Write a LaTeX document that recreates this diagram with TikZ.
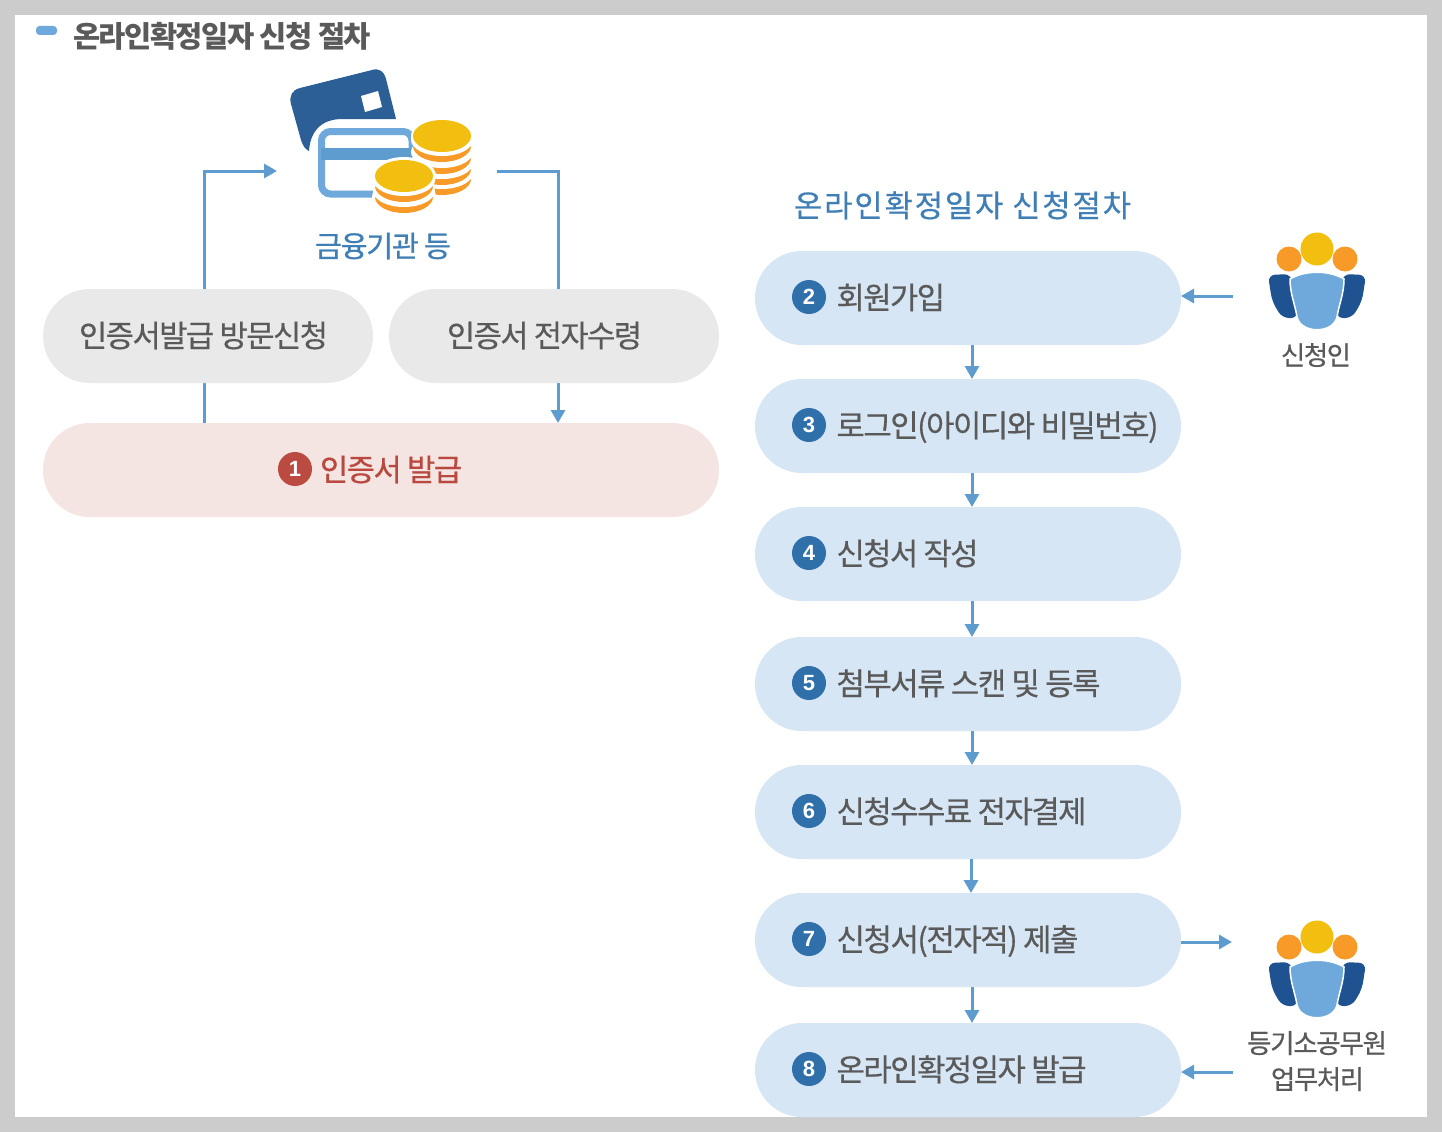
\documentclass[tikz,border=0pt]{standalone}
\usepackage{fontspec}
\usepackage{graphicx}
\usetikzlibrary{arrows.meta}
\setmainfont{Noto Sans CJK KR}[LetterSpace=-5,FakeBold=0.5]
\newfontfamily\titlefont{Noto Sans CJK KR}[LetterSpace=-5]
\newfontfamily\numfont{Liberation Sans}
\definecolor{frameg}{HTML}{CCCCCC}
\definecolor{txtg}{HTML}{5A5A5A}
\definecolor{txtb}{HTML}{3F7FB5}
\definecolor{txtr}{HTML}{B9483F}
\definecolor{pillb}{HTML}{D6E6F5}
\definecolor{pillg}{HTML}{E9E9E9}
\definecolor{pillr}{HTML}{F4E4E2}
\definecolor{numb}{HTML}{2F70AB}
\definecolor{numr}{HTML}{BB4A40}
\definecolor{linec}{HTML}{5E9BCE}
\definecolor{cardd}{HTML}{2C5F95}
\definecolor{cardl}{HTML}{6FA9DC}
\definecolor{coiny}{HTML}{F2BE0F}
\definecolor{coino}{HTML}{F79A28}
\definecolor{persd}{HTML}{1F5290}
\newcommand{\fitw}[2]{\resizebox{#1pt}{!}{\fontsize{32}{36}\selectfont #2}}
\tikzset{
 pill/.style={rounded corners=46.9pt,inner sep=0pt,outer sep=0pt,minimum height=94pt},
 bluepill/.style={pill,fill=pillb,minimum width=426pt},
 greypill/.style={pill,fill=pillg,minimum width=330pt},
 redpill/.style={pill,fill=pillr,minimum width=676pt},
 lab/.style={inner sep=0pt,outer sep=0pt,anchor=base west},
 num/.style={circle,fill=numb,text=white,minimum size=34pt,inner sep=0pt,font=\numfont\fontsize{22}{22}\selectfont\bfseries},
 flow/.style={draw=linec,line width=3pt},
 flowa/.style={flow,-{Triangle[length=13pt,width=14pt]}},
}
\newcommand{\people}[2]{%
 \begin{scope}[shift={(#1,#2)}]
  \fill[coino] (-28,10) circle (12.5);
  \fill[coino] (28,10) circle (12.5);
  \fill[coiny] (0,0) circle (16.5);
  \fill[persd,rounded corners=7pt] (-49,26) -- (-26,25) -- (-19,69) -- (-35,69) -- (-45,52) -- cycle;
  \fill[persd,rounded corners=7pt] (49,26) -- (26,25) -- (19,69) -- (35,69) -- (45,52) -- cycle;
  \fill[cardl,draw=white,line width=1.5pt] (-27,30) .. controls (-12,21) and (12,21) .. (27,30)
    .. controls (27,45) and (22,55) .. (20,68) .. controls (16,85) and (-16,85) .. (-20,68)
    .. controls (-22,55) and (-27,45) .. (-27,30) -- cycle;
 \end{scope}}
\newcommand{\coinlayer}[2]{%
  \fill[coino] (#1,#2) ellipse (29 and 16);
  \fill[white] (#1,#2-6) ellipse (31 and 16);}
\begin{document}
\begin{tikzpicture}[x=1pt,y=-1pt]
\useasboundingbox (0,0) rectangle (1442,1132);
\fill[frameg] (0,0) rectangle (1442,1132);
\fill[white] (15,15) rectangle (1427,1117);

% title
\fill[cardl,rounded corners=3.5pt] (36,26) rectangle (57,35);
\node[lab,text=txtg] (title) at (73,47) {\titlefont\bfseries\fitw{298}{\titlefont\bfseries 온라인확정일자 신청 절차}};

% pills
\node[redpill] (issue) at (381,470) {};
\coordinate (cardin) at (277,171);
\coordinate (cardout) at (497,171);
\coordinate (c1) at (204,171);
\coordinate (c2) at (558,171);
\coordinate (issueA) at (204,423);
\coordinate (issueB) at (558,423);
\draw[flowa] (issueA) -- (c1) -- (cardin);
\draw[flowa] (cardout) -- (c2) -- (issueB);
\node[greypill] (visit) at (208,336) {};
\node[greypill] (recv) at (554,336) {};
\node[lab,text=txtg] (visitT) at (79,347) {\fitw{249}{인증서발급 방문신청}};
\node[lab,text=txtg] (recvT) at (447,347) {\fitw{195}{인증서 전자수령}};
\node[num,fill=numr] (n1) at (295,469) {1};
\node[lab,text=txtr] (issueT) at (320,481) {\fitw{142}{인증서 발급}};

% card and coins icon
\fill[cardd] (396,119) -- (386,79) .. controls (384,71) and (379,68) .. (372,70) -- (300,88)
  .. controls (292,90) and (289,96) .. (291,104) -- (301,140) .. controls (303,146) and (305,149) .. (309,151)
  .. controls (310,135) and (318,118) .. (345,119) -- cycle;
\fill[white] (361,96) -- (378,91) -- (382,107) -- (365,112) -- cycle;
\draw[cardl,line width=7pt,rounded corners=9pt] (321.5,131.5) rectangle (412,194);
\fill[linec] (321,148) rectangle (412,160);
% rear stack
\coinlayer{442}{179}
\coinlayer{442}{169}
\coinlayer{442}{158}
\coinlayer{442}{146}
\fill[white] (442,136) ellipse (31 and 18);
\fill[coiny] (442,136) ellipse (29 and 16);
% front stack
\fill[white] (404,197) ellipse (32 and 19);
\fill[white] (404,176) ellipse (32 and 19);
\coinlayer{404}{197}
\coinlayer{404}{186}
\fill[white] (404,176) ellipse (31 and 18);
\fill[coiny] (404,176) ellipse (29 and 16);
\node[lab,text=txtb] (bankT) at (315,257) {\fitw{136}{금융기관 등}};

% right column
\node[lab,text=txtb] (headT) at (794,217) {\resizebox{337pt}{!}{\fontsize{32}{36}\addfontfeature{LetterSpace=6}\selectfont 온라인확정일자 신청절차}};
\node[bluepill] (s2) at (968,298) {};
\node[bluepill] (s3) at (968,426) {};
\node[bluepill] (s4) at (968,554) {};
\node[bluepill] (s5) at (968,684) {};
\node[bluepill] (s6) at (968,812) {};
\node[bluepill] (s7) at (968,940) {};
\node[bluepill] (s8) at (968,1070) {};
\foreach \a/\b/\x in {s2/s3/972,s3/s4/972,s4/s5/972,s5/s6/972,s6/s7/971,s7/s8/972}
  \draw[flowa] (\a.south -| \x,0) -- (\b.north -| \x,0);
\node[num] (n2) at (809,297) {2};
\node[num] (n3) at (809,425) {3};
\node[num] (n4) at (809,553) {4};
\node[num] (n5) at (809,683) {5};
\node[num] (n6) at (809,811) {6};
\node[num] (n7) at (809,939) {7};
\node[num] (n8) at (809,1069) {8};
\node[lab,text=txtg] (t2) at (836.5,309) {\fitw{108.5}{회원가입}};
\node[lab,text=txtg] (t3) at (836.5,437) {\fitw{322}{로그인(아이디와 비밀번호)}};
\node[lab,text=txtg] (t4) at (836.5,565) {\fitw{142}{신청서 작성}};
\node[lab,text=txtg] (t5) at (836.5,695) {\fitw{264}{첨부서류 스캔 및 등록}};
\node[lab,text=txtg] (t6) at (836.5,823) {\fitw{250}{신청수수료 전자결제}};
\node[lab,text=txtg] (t7) at (836.5,951) {\fitw{242}{신청서(전자적) 제출}};
\node[lab,text=txtg] (t8) at (836.5,1081) {\fitw{250}{온라인확정일자 발급}};

% people
\people{1317}{249}
\people{1317}{937}
\node[lab,text=txtg] (pT1) at (1281,365) {\fitw{70}{신청인}};
\node[lab,text=txtg] (pT2) at (1247,1053) {\fitw{140}{등기소공무원}};
\node[lab,text=txtg] (pT3) at (1271,1089) {\fitw{93}{업무처리}};
\coordinate (p1) at (1233,296);
\coordinate (p2) at (1232,942);
\coordinate (p3) at (1233,1072);
\draw[flowa] (p1) -- (s2.east |- p1);
\draw[flowa] (s7.east |- p2) -- (p2);
\draw[flowa] (p3) -- (s8.east |- p3);
\end{tikzpicture}
\end{document}
